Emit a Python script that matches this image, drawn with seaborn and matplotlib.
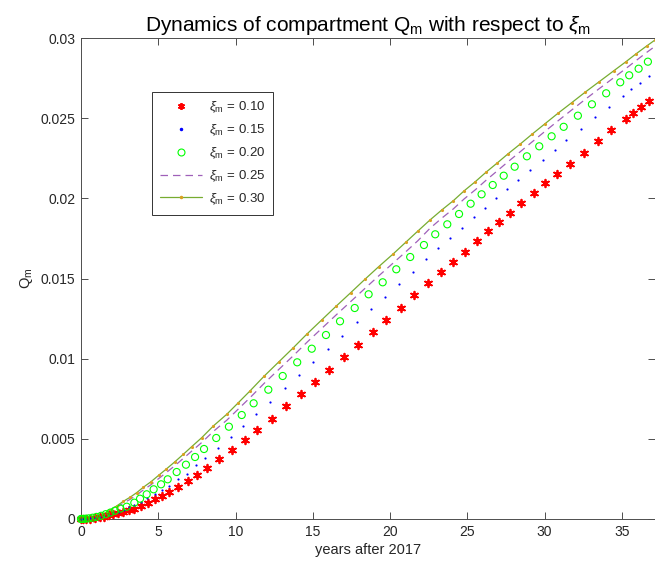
import matplotlib
matplotlib.use("Agg")
import matplotlib.pyplot as plt
from matplotlib.lines import Line2D
import seaborn as sns
import pandas as pd

# ---------------- data ----------------
x_010 = [0, 0.1, 0.3, 0.6, 0.9, 1.2, 1.5, 1.8, 2.09, 2.41, 2.74, 3.12, 3.45, 3.86, 4.33, 4.79, 5.24,
         5.71, 6.29, 6.92, 7.52, 8.13, 8.95, 9.77, 10.59, 11.41, 12.36, 13.28, 14.21, 15.16, 16.06,
         17.02, 17.94, 18.87, 19.75, 20.68, 21.56, 22.45, 23.27, 24.05, 24.82, 25.60, 26.33, 27.06,
         27.77, 28.49, 29.29, 30.04, 30.79, 31.62, 32.52, 33.42, 34.31, 35.24, 35.73, 36.25, 36.77]
y_010 = [0, 0.000003, 0.00001, 0.00003, 0.00006, 0.0001, 0.00015, 0.00022, 0.000293, 0.000356,
         0.000418, 0.000543, 0.000642, 0.000811, 0.000998, 0.001229, 0.001435, 0.001703, 0.002015,
         0.002389, 0.002744, 0.003162, 0.003724, 0.004304, 0.004909, 0.00558, 0.006256, 0.007029,
         0.007778, 0.008526, 0.009312, 0.010104, 0.010871, 0.011663, 0.012412, 0.013179, 0.013971,
         0.014719, 0.015387, 0.016029, 0.016671, 0.017339, 0.017944, 0.018524, 0.019104, 0.01969,
         0.020314, 0.020938, 0.021536, 0.02216, 0.022846, 0.023563, 0.024262, 0.024929, 0.025322,
         0.025696, 0.026089]

x_015 = [0, 0.1, 0.3, 0.6, 0.9, 1.2, 1.5, 1.8, 2.1, 2.48, 2.80, 3.12, 3.43, 3.88, 4.29, 4.79, 5.26,
         5.69, 6.26, 6.84, 7.42, 8.04, 8.86, 9.68, 10.48, 11.30, 12.25, 13.18, 14.10, 15.03, 15.96,
         16.89, 17.84, 18.76, 19.67, 20.55, 21.46, 22.34, 23.12, 23.89, 24.67, 25.44, 26.14, 26.87,
         27.58, 28.27, 29.07, 29.87, 30.65, 31.41, 32.35, 33.27, 34.18, 35.05, 35.58, 36.16, 36.73]
y_015 = [0, 0.000004, 0.000014, 0.00004, 0.00008, 0.00013, 0.0002, 0.00028, 0.00036, 0.000455,
         0.000561, 0.00073, 0.000873, 0.00106, 0.00131, 0.001559, 0.001809, 0.002077, 0.002495,
         0.002807, 0.003349, 0.003823, 0.004428, 0.005133, 0.00582, 0.006518, 0.007316, 0.008152,
         0.008963, 0.009792, 0.010603, 0.011432, 0.012287, 0.013098, 0.013865, 0.014657, 0.015424,
         0.016204, 0.016884, 0.017526, 0.018168, 0.018817, 0.019416, 0.020002, 0.020582, 0.021143,
         0.021786, 0.02241, 0.023014, 0.023663, 0.024343, 0.025054, 0.025696, 0.026383, 0.0268,
         0.027212, 0.02763]

x_020 = [0, 0.05, 0.15, 0.3, 0.5, 0.75, 1.0, 1.3, 1.6, 1.9, 2.2, 2.55, 2.96, 3.45, 3.82, 4.25, 4.70,
         5.18, 5.61, 6.19, 6.79, 7.38, 7.96, 8.75, 9.57, 10.40, 11.17, 12.12, 13.05, 13.99, 14.93,
         15.85, 16.76, 17.71, 18.61, 19.52, 20.40, 21.30, 22.19, 22.92, 23.70, 24.46, 25.21, 25.92,
         26.64, 27.35, 28.06, 28.85, 29.65, 30.45, 31.23, 32.15, 33.06, 33.98, 34.89, 35.47, 36.08,
         36.68]
y_020 = [0, 0.000002, 0.000007, 0.00002, 0.00004, 0.00008, 0.00013, 0.0002, 0.0003, 0.0004, 0.00052,
         0.00065, 0.000767, 0.001017, 0.001266, 0.001541, 0.001852, 0.002164, 0.002476, 0.002931,
         0.003387, 0.003867, 0.004366, 0.005052, 0.005757, 0.006486, 0.007216, 0.008064, 0.008919,
         0.009773, 0.010622, 0.011476, 0.012331, 0.01316, 0.014015, 0.014763, 0.015574, 0.016341,
         0.017089, 0.017757, 0.01838, 0.019023, 0.019665, 0.020252, 0.020832, 0.021412, 0.021973,
         0.022622, 0.023245, 0.023869, 0.024461, 0.025154, 0.025865, 0.026551, 0.027237, 0.027674,
         0.028085, 0.028522]

x_hi = [0, 0.2, 0.5, 0.8, 1.1, 1.4, 1.65, 1.88, 2.31, 2.74, 3.17, 3.60, 4.03, 4.53, 5.05, 5.50, 6.08,
        6.62, 7.16, 7.81, 8.56, 9.43, 10.18, 10.93, 11.86, 12.79, 13.72, 14.64, 15.57, 16.50, 17.45,
        18.37, 19.26, 20.17, 21.03, 21.80, 22.58, 23.34, 24.09, 24.80, 25.51, 26.20, 26.93, 27.64,
        28.40, 29.20, 30.00, 30.86, 31.75, 32.61, 33.53, 34.48, 35.26, 35.90, 36.60, 37.14]
y_025 = [0, 0.000009, 0.000036, 0.00009, 0.00016, 0.00026, 0.00037, 0.00049, 0.00072, 0.00099,
         0.00122, 0.00149, 0.00181, 0.00214, 0.00254, 0.00288, 0.00333, 0.00378, 0.00423, 0.00477,
         0.00546, 0.00616, 0.00686, 0.00756, 0.00847, 0.00932, 0.01017, 0.01104, 0.01188, 0.01272,
         0.01356, 0.01438, 0.01516, 0.01594, 0.01668, 0.01736, 0.01813, 0.01876, 0.01934, 0.01997,
         0.02053, 0.02112, 0.02171, 0.02229, 0.02289, 0.02353, 0.02416, 0.02483, 0.02551, 0.02616,
         0.02684, 0.02753, 0.0281, 0.02858, 0.0291, 0.02948]
y_030 = [0, 0.00001, 0.00004, 0.0001, 0.00018, 0.00029, 0.00042, 0.000561, 0.000811, 0.001104,
         0.001353, 0.00164, 0.001977, 0.002326, 0.002744, 0.0031, 0.003574, 0.004036, 0.00451,
         0.005071, 0.0058, 0.00653, 0.007254, 0.007983, 0.008919, 0.009792, 0.010665, 0.011557,
         0.012412, 0.013266, 0.014114, 0.01495, 0.015736, 0.016509, 0.017276, 0.017963, 0.018649,
         0.019272, 0.019852, 0.020476, 0.021037, 0.021623, 0.022204, 0.022784, 0.02337, 0.024012,
         0.024636, 0.025304, 0.025965, 0.026613, 0.027275, 0.027961, 0.028522, 0.029002, 0.029501,
         0.029875]

labels = [r"$\xi_\mathrm{m}$ = 0.10", r"$\xi_\mathrm{m}$ = 0.15", r"$\xi_\mathrm{m}$ = 0.20",
          r"$\xi_\mathrm{m}$ = 0.25", r"$\xi_\mathrm{m}$ = 0.30"]
x_ticks = [0, 5, 10, 15, 20, 25, 30, 35]
y_ticks = [0, 0.005, 0.01, 0.015, 0.02, 0.025, 0.03]
y_ticklabels = ["0", "0.005", "0.01", "0.015", "0.02", "0.025", "0.03"]

# ---------------- style ----------------
sns.set_theme(style="white")
plt.rcParams["font.family"] = ["Liberation Sans", "DejaVu Sans"]
plt.rcParams["mathtext.fontset"] = "custom"
plt.rcParams["mathtext.rm"] = "Liberation Sans"
plt.rcParams["mathtext.it"] = "Liberation Sans:italic"
plt.rcParams["mathtext.bf"] = "Liberation Sans:bold"

fig = plt.figure(figsize=(6.55, 5.71), dpi=100)
ax = fig.add_axes([81 / 655, 52 / 571, 574 / 655, 481 / 571])

c_red = "#ff0000"
c_blue = "#0000ff"
c_green = "#00ff00"
c_purple = "#8e44ad"
c_olive = "#77ac30"
c_orange = "#d9a020"
asterisk = (6, 2, 0)

sns.scatterplot(x=x_010, y=y_010, marker=asterisk, s=30, color=c_red, edgecolor=c_red,
                linewidth=1.3, ax=ax, zorder=3, clip_on=False)
sns.scatterplot(x=x_015, y=y_015, marker=".", s=10, color=c_blue, edgecolor=c_blue,
                linewidth=0, ax=ax, zorder=3, clip_on=False)
sns.scatterplot(x=x_020, y=y_020, marker="o", s=26, facecolor="none", edgecolor=c_green,
                linewidth=0.8, ax=ax, zorder=3, clip_on=False)
sns.lineplot(x=x_hi, y=y_025, color=c_purple, linewidth=0.9, linestyle=(0, (6, 4)),
             ax=ax, sort=False, estimator=None, alpha=0.85, zorder=2)
sns.lineplot(x=x_hi, y=y_030, color=c_olive, linewidth=0.9, ax=ax, sort=False,
             estimator=None, marker=".", markersize=3, markerfacecolor=c_orange,
             markeredgecolor=c_orange, zorder=2)

ax.set_xlim(0, 37.14)
ax.set_ylim(0, 0.03)
ax.set_xticks(x_ticks)
ax.set_xticklabels([str(v) for v in x_ticks])
ax.set_yticks(y_ticks)
ax.set_yticklabels(y_ticklabels)

axis_col = "#4d4d4d"
text_col = "#262626"
for sp in ax.spines.values():
    sp.set_visible(True)
    sp.set_color(axis_col)
    sp.set_linewidth(0.7)
ax.tick_params(direction="in", length=5, width=0.7, color=axis_col, labelcolor=text_col,
               labelsize=10, top=True, right=True, bottom=True, left=True, pad=4)

ax.set_xlabel("years after 2017", fontsize=10.5, color=text_col, labelpad=3)
ax.set_ylabel(r"Q$_\mathrm{m}$", fontsize=10.5, color=text_col, labelpad=4)
ax.set_title(r"Dynamics of compartment Q$_\mathrm{m}$ with respect to $\xi_\mathrm{m}$",
             fontsize=15, color="black", pad=5)

handles = [
    Line2D([], [], linestyle="none", marker=asterisk, markersize=5, color=c_red,
           markeredgewidth=1.3),
    Line2D([], [], linestyle="none", marker=".", markersize=3, color=c_blue),
    Line2D([], [], linestyle="none", marker="o", markersize=5, markerfacecolor="none",
           markeredgecolor=c_green, markeredgewidth=0.8),
    Line2D([], [], color=c_purple, linewidth=0.9, linestyle=(0, (6, 4)), alpha=0.85),
    Line2D([], [], color=c_olive, linewidth=0.9, marker=".", markersize=3,
           markerfacecolor=c_orange, markeredgecolor=c_orange),
]
leg = ax.legend(handles, labels, loc="upper left", bbox_to_anchor=(0.124, 0.888),
                borderaxespad=0, fontsize=9.5, frameon=True, fancybox=False,
                edgecolor="#333333", framealpha=1, handlelength=3.2, labelspacing=0.55,
                borderpad=0.6, handletextpad=0.5)
leg.get_frame().set_linewidth(0.7)

fig.savefig("out.png", dpi=100)
